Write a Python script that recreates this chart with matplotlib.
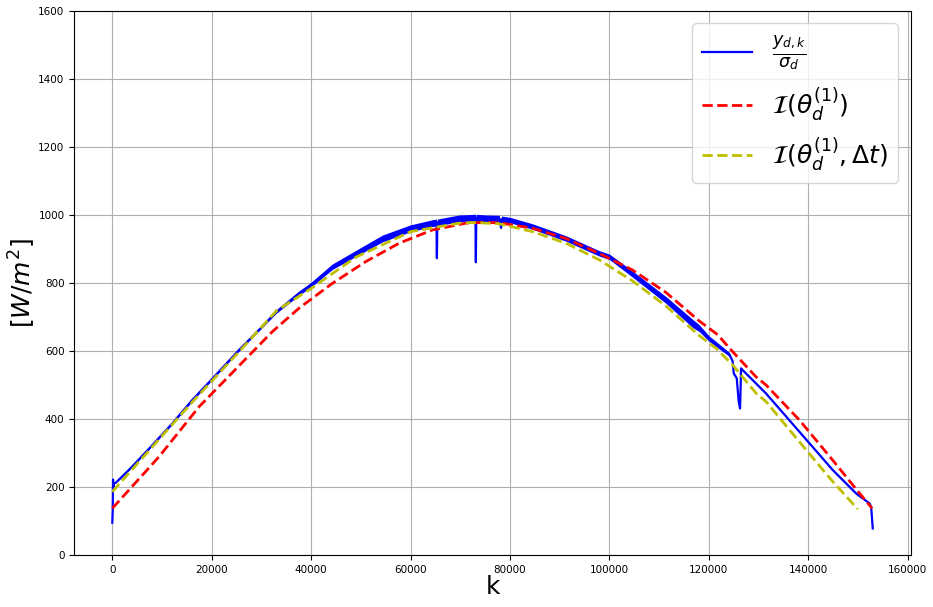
import matplotlib
matplotlib.use("Agg")
import matplotlib.pyplot as plt
import numpy as np

blue_k = [0, 80, 150, 250, 340, 680, 4000, 8050, 12075, 16100, 20800, 25500, 29500,
          33000, 37570, 40000, 44280, 49000, 54340, 60000, 64400, 65200, 65290, 65380,
          69780, 73050, 73130, 73210, 75150, 77840, 78200, 78300, 80000, 84530, 91240,
          97950, 100000, 104660, 111380, 116730, 118080, 120000, 124110, 124780, 125000,
          125600, 126000, 126270, 126400, 126470, 126700, 131500, 139960, 144900,
          149620, 152300, 152630, 152800, 152960]
blue_v = [95, 130, 222, 200, 211, 212, 260, 323, 387, 456, 529, 603, 662,
          715, 770, 795, 848, 887, 931, 961, 976, 978, 873, 978,
          990, 992, 861, 992, 990, 990, 962, 988, 985, 966, 931,
          887, 877, 826, 750, 681, 667, 637, 590, 570, 534,
          520, 451, 431, 500, 549, 545, 475, 333, 250,
          181, 152, 142, 110, 78]
blue_spread = [0, 0, 0, 0, 0, 0, 2, 2, 3, 3, 3, 3, 3,
               4, 6, 7, 8, 9, 10, 10, 10, 10, 0, 10,
               10, 10, 0, 10, 10, 9, 0, 9, 8, 8, 8,
               8, 8, 9, 10, 12, 10, 8, 6, 0, 0,
               0, 0, 0, 0, 0, 3, 3, 3, 3,
               3, 2, 0, 0, 0]

# model I(theta_d^(1))
red_k = [0, 9400, 17450, 32200, 37570, 44280, 51000, 57700, 64400, 71130, 74500,
         77830, 84530, 91240, 97950, 104660, 111380, 118080, 121760, 124780,
         129480, 131500, 138200, 144900, 148930, 152830]
red_v = [137, 289, 436, 657, 726, 799, 863, 917, 956, 976, 978,
         977, 961, 931, 887, 838, 772, 688, 648, 598,
         524, 500, 397, 279, 206, 137]

# model I(theta_d^(1), dt)
yel_k = [0, 8050, 16100, 25500, 33000, 40000, 49000, 60000, 69780, 72500, 77840,
         84530, 91240, 97950, 104660, 111380, 118080, 121440, 124780, 129480, 131500,
         138200, 144900, 149940]
yel_v = [186, 318, 450, 598, 718, 784, 876, 951, 976, 978, 974,
         951, 917, 868, 806, 732, 645, 608, 559, 476, 451,
         333, 216, 135]

xticks = [0, 20000, 40000, 60000, 80000, 100000, 120000, 140000, 160000]
yticks = [0, 200, 400, 600, 800, 1000, 1200, 1400, 1600]

fig = plt.figure(figsize=(9.33, 6.07), dpi=100)
ax = fig.add_axes([0.0796, 0.0857, 0.8968, 0.8962])

bk = np.array(blue_k, float)
bv = np.array(blue_v, float)
bs = np.array(blue_spread, float)
ax.fill_between(bk, bv - bs, bv + bs, color='b', lw=0, zorder=2)
ax.plot(bk, bv, color='b', lw=1.6, label=r'$\frac{y_{d,k}}{\sigma_d}$', zorder=2)
ax.plot(red_k, red_v, 'r--', lw=2, label=r'$\mathcal{I}(\theta_d^{(1)})$', zorder=3)
ax.plot(yel_k, yel_v, 'y--', lw=2, label=r'$\mathcal{I}(\theta_d^{(1)},\Delta t)$', zorder=4)

ax.set_xlim(-7650, 160650)
ax.set_ylim(0, 1600)
ax.set_xticks(xticks)
ax.set_yticks(yticks)
ax.tick_params(labelsize=7.5)
ax.grid(True, color='#b0b0b0', lw=0.8)
ax.set_axisbelow(True)
ax.set_xlabel('k', fontsize=18, labelpad=0)
ax.set_ylabel(r'$[W/m^2]$', fontsize=18, labelpad=0.5)
ax.legend(loc='upper right', fontsize=18, borderaxespad=0.5)

fig.savefig('out.png', dpi=100)
